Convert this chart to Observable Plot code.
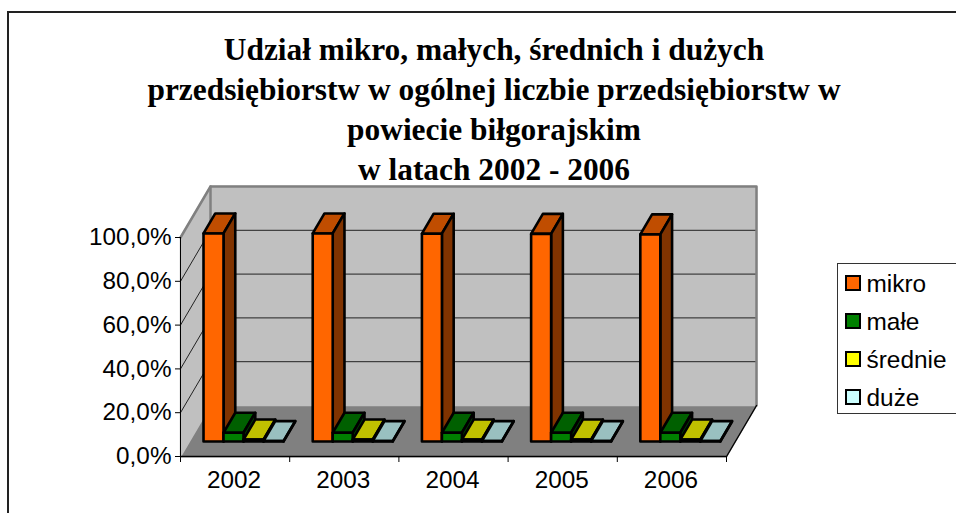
<!DOCTYPE html>
<html><head><meta charset="utf-8">
<script src="https://cdn.jsdelivr.net/npm/d3@7"></script>
<script src="https://cdn.jsdelivr.net/npm/@observablehq/plot@0.6"></script>
<style>
html,body{margin:0;padding:0;background:#fff;overflow:hidden}
#frame{position:relative;width:956px;height:513px;overflow:hidden}
#border{position:absolute;left:7px;top:11px;width:960px;height:520px;border:2px solid #222;box-sizing:border-box}
#title{position:absolute;left:7px;width:974px;top:30px;text-align:center;font:bold 31.4px/40px "Liberation Serif",serif;color:#000}
#chart{position:absolute;left:0;top:183px}
#legend{position:absolute;left:837px;top:263px;width:130px;height:151px;box-sizing:border-box;border:1.5px solid #333;background:#fff;font:24.4px "Liberation Sans",Arial,sans-serif;color:#000}
.li{position:absolute;left:7px;white-space:nowrap;line-height:26px}
.li i{position:absolute;left:0;top:4px;width:12px;height:12px;border:2.5px solid #000;display:block}
.li span{position:absolute;left:21.5px;top:0}
</style></head><body>
<div id="frame"><div id="border"></div>
<div id="title">Udział mikro, małych, średnich i dużych<br>przedsiębiorstw w ogólnej liczbie przedsiębiorstw w<br>powiecie biłgorajskim<br>w latach 2002 - 2006</div>
<div id="chart"></div><div id="legend"></div></div>
<script>
const years = ["2002","2003","2004","2005","2006"];
const mikro = [95.0,95.0,94.9,94.8,94.6];
const male = [4.0,4.0,4.0,4.0,4.0];
const srednie = [0.9,0.9,0.9,0.9,0.9];
const duze = [0.2,0.2,0.2,0.2,0.2];
const seriesNames = ["mikro","małe","średnie","duże"];
const seriesValues = [mikro,male,srednie,duze];
const colFront = ["#FF6600","#008000","#FFFF00","#CCFFFF"];
const colTop = ["#C04D00","#006000","#C0C000","#99C0C0"];
const colSide = ["#803300","#004000","#808000","#668080"];
const yTicks = [0,20,40,60,80,100];
const fmt = d => d.toFixed(1).replace(".",",")+"%";

// oblique 3D view, expressed in data units
const depthX = 30/109.2, depthY = 51/2.19;
const pr = (c,v,d) => ({x:c+d*depthX, y:v+d*depthY});
const poly = (id,fill,pts) => pts.map(([c,v,d]) => ({id,fill,...pr(c,v,d)}));
const n = years.length;
const walls = [
  ...poly("floor","#808080",[[0,0,0],[n,0,0],[n,0,1],[0,0,1]]),
  ...poly("left","#C0C0C0",[[0,0,0],[0,0,1],[0,100,1],[0,100,0]]),
  ...poly("back","#C0C0C0",[[0,0,1],[n,0,1],[n,100,1],[0,100,1]])
];
const grid = yTicks.slice(1,5).flatMap(t => poly("g"+t,"none",[[0,t,0],[0,t,1],[n,t,1]]));
const barStart = 0.13, barW = 20/109.2, d1 = 0.294, d2 = 0.686;
const bars = [];
years.forEach((y,i) => seriesValues.forEach((vals,s) => {
  const a = i+barStart+s*barW, b = a+barW, v = vals[i], id = y+s;
  bars.push(...poly(id+"t",colTop[s],[[a,v,d1],[b,v,d1],[b,v,d2],[a,v,d2]]));
  bars.push(...poly(id+"s",colSide[s],[[b,0,d1],[b,0,d2],[b,v,d2],[b,v,d1]]));
  bars.push(...poly(id+"f",colFront[s],[[a,0,d1],[b,0,d1],[b,v,d1],[a,v,d1]]));
}));
const line = (data,o) => Plot.line(data,{x:"x",y:"y",z:"id",curve:"linear-closed",...o});

const plot = Plot.plot({
  width:956, height:330, marginLeft:180, marginRight:230, marginTop:54, marginBottom:57,
  style:{background:"transparent",overflow:"visible"},
  x:{domain:[0,n],axis:null}, y:{domain:[0,100],axis:null},
  marks:[
    line(walls,{fill:"fill",stroke:"fill"}),
    line(grid,{curve:"linear",stroke:"#222",strokeWidth:1}),
    Plot.line(poly("e",0,[[0,100,0],[0,100,1],[n,100,1],[n,0,1]]),{x:"x",y:"y",stroke:"#808080",strokeWidth:2.5}),
    Plot.line(poly("e2",0,[[0,0,1],[0,100,1]]),{x:"x",y:"y",stroke:"#808080",strokeWidth:2.5}),
    Plot.line(poly("e3",0,[[n,0,0],[n,0,1]]),{x:"x",y:"y",stroke:"#000",strokeWidth:1.3}),
    Plot.ruleY([0],{stroke:"#000",strokeWidth:1.5}),
    Plot.ruleX([0],{y1:0,y2:100,stroke:"#000",strokeWidth:1}),
    line(bars,{fill:"fill",stroke:"#000",strokeWidth:2.6,strokeLinejoin:"round"}),
    Plot.axisY({ticks:yTicks,tickSize:5,tickPadding:4,tickFormat:fmt,fontSize:24.3,fontFamily:"Liberation Sans",fill:"#000",stroke:"#000",label:null}),
    Plot.axisX({ticks:d3.range(n+1),tickSize:6,tickFormat:()=>"",label:null,stroke:"#000"}),
    Plot.text(years,{x:(d,i)=>i+0.5,y:0,text:d=>d,dx:-1,dy:24,fontSize:24.3,fontFamily:"Liberation Sans",fill:"#000"})
  ]
});
document.getElementById("chart").append(plot);
const leg = document.getElementById("legend");
const tops = [7,45,83,121];
seriesNames.forEach((s,i)=>{
  const el=document.createElement("div");el.className="li";el.style.top=tops[i]+"px";
  el.innerHTML=`<i style="background:${colFront[i]}"></i><span>${s}</span>`;leg.append(el);
});
</script></body></html>
